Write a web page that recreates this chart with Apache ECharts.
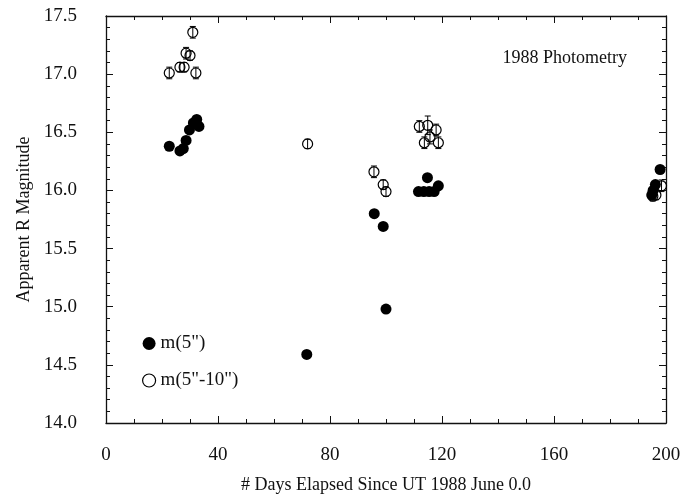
<!DOCTYPE html>
<html>
<head>
<meta charset="utf-8">
<script src="https://cdn.jsdelivr.net/npm/echarts@6/dist/echarts.min.js"></script>
<style>
  html, body { margin: 0; padding: 0; background: #fff; }
  #chart { width: 683px; height: 495px; }
</style>
</head>
<body>
<div id="chart"></div>
<script>
// m(5") -- filled circles
const daysInner = [22.6, 26.4, 27.6, 28.6, 29.8, 31.2, 32.4, 33.2, 71.7, 95.8, 99.0, 100.0,
    111.6, 113.5, 114.8, 115.4, 117.2, 118.7, 194.9, 195.4, 196.2, 197.9]
const magInner = [16.38, 16.34, 16.36, 16.43, 16.52, 16.58, 16.61, 16.55, 14.59, 15.80, 15.69, 14.98,
    15.99, 15.99, 16.11, 15.99, 15.99, 16.04, 15.96, 16.00, 16.05, 16.18]

// m(5"-10") -- open circles with error bars
const daysOuter = [22.6, 26.4, 27.9, 28.6, 30.0, 31.0, 32.1, 72.0, 95.7, 99.0, 100.0,
    111.9, 113.7, 114.9, 115.7, 117.9, 118.7, 195.3, 196.4, 198.4]
const magOuter = [17.01, 17.06, 17.06, 17.18, 17.16, 17.36, 17.01, 16.40, 16.16, 16.05, 15.99,
    16.55, 16.41, 16.56, 16.46, 16.52, 16.41, 15.95, 15.96, 16.04]
const errOuter = [0.05, 0.04, 0.04, 0.05, 0.04, 0.05, 0.05, 0.04, 0.05, 0.04, 0.04,
    0.05, 0.05, 0.08, 0.06, 0.05, 0.05, 0.04, 0.04, 0.05]

const xTicks = [0, 40, 80, 120, 160, 200]
const yTicks = ['14.0', '14.5', '15.0', '15.5', '16.0', '16.5', '17.0', '17.5']

const serif = '"Liberation Serif", "DejaVu Serif", serif'
const ink = '#111'

const chart = echarts.init(document.getElementById('chart'))

// ticks point into the plot on all four sides, like the original frame
const tickStyle = {
    axisLine: {show: true, onZero: false, lineStyle: {color: ink, width: 1.3}},
    axisTick: {show: true, inside: true, length: 7, lineStyle: {color: ink, width: 1}},
    minorTick: {show: true, splitNumber: 0, length: 4, lineStyle: {color: ink, width: 1}},
    splitLine: {show: false}
}

chart.setOption({
    backgroundColor: '#fff',
    animation: false,
    textStyle: {fontFamily: serif, color: ink},
    grid: {left: 106, right: 17, top: 16, bottom: 72, outerBoundsMode: 'none', containLabel: false},
    title: {
        text: '1988 Photometry',
        right: 51,
        top: 44,
        textStyle: {fontFamily: serif, fontSize: 18, fontWeight: 'normal', color: ink}
    },
    legend: {
        orient: 'vertical',
        left: 137,
        top: 329,
        itemWidth: 13,
        itemHeight: 13,
        itemGap: 18,
        textStyle: {fontFamily: serif, fontSize: 19, color: ink, padding: [0, 0, 0, 0]},
        data: [
            {name: 'm(5")', icon: 'circle', itemStyle: {color: '#000'}},
            {name: 'm(5"-10")', icon: 'circle',
                itemStyle: {color: '#fff', borderColor: '#000', borderWidth: 1.2}}
        ]
    },
    xAxis: [{
        type: 'value', min: 0, max: 200, interval: 40,
        name: '# Days Elapsed Since UT 1988 June 0.0',
        nameLocation: 'middle', nameGap: 53,
        nameTextStyle: {fontFamily: serif, fontSize: 18, color: ink},
        axisLabel: {
            fontFamily: serif, fontSize: 19, color: ink, margin: 23,
            formatter: v => xTicks.includes(v) ? String(v) : ''
        },
        ...tickStyle,
        minorTick: {...tickStyle.minorTick, splitNumber: 4}
    }, {
        type: 'value', min: 0, max: 200, interval: 40, position: 'top',
        axisLabel: {show: false},
        ...tickStyle,
        minorTick: {...tickStyle.minorTick, splitNumber: 4}
    }],
    yAxis: [{
        type: 'value', min: 14, max: 17.5, interval: 0.5,
        name: 'Apparent R Magnitude',
        nameLocation: 'middle', nameGap: 72,
        nameTextStyle: {fontFamily: serif, fontSize: 18, color: ink},
        axisLabel: {
            fontFamily: serif, fontSize: 19, color: ink, margin: 29,
            formatter: v => yTicks[Math.round((v - 14) / 0.5)]
        },
        ...tickStyle,
        minorTick: {...tickStyle.minorTick, splitNumber: 5}
    }, {
        type: 'value', min: 14, max: 17.5, interval: 0.5, position: 'right',
        axisLabel: {show: false},
        ...tickStyle,
        minorTick: {...tickStyle.minorTick, splitNumber: 5}
    }],
    series: [{
        name: 'm(5")',
        type: 'scatter',
        symbol: 'circle',
        symbolSize: 11,
        itemStyle: {color: '#000', opacity: 1},
        data: daysInner.map((d, i) => [d, magInner[i]]),
        z: 3
    }, {
        name: 'm(5"-10")',
        type: 'scatter',
        symbol: 'circle',
        symbolSize: 10,
        itemStyle: {color: 'rgba(255,255,255,0)', borderColor: '#000', borderWidth: 1.2, opacity: 1},
        data: daysOuter.map((d, i) => [d, magOuter[i]]),
        z: 4
    }, {
        name: 'errors',
        type: 'custom',
        data: daysOuter.map((d, i) => [d, magOuter[i] - errOuter[i], magOuter[i] + errOuter[i]]),
        renderItem: (params, api) => {
            const lo = api.coord([api.value(0), api.value(1)])
            const hi = api.coord([api.value(0), api.value(2)])
            const cap = 3
            const style = {stroke: '#000', lineWidth: 1}
            return {
                type: 'group',
                children: [
                    {type: 'line', shape: {x1: lo[0], y1: lo[1], x2: hi[0], y2: hi[1]}, style},
                    {type: 'line', shape: {x1: lo[0] - cap, y1: lo[1], x2: lo[0] + cap, y2: lo[1]}, style},
                    {type: 'line', shape: {x1: hi[0] - cap, y1: hi[1], x2: hi[0] + cap, y2: hi[1]}, style}
                ]
            }
        },
        z: 5
    }]
})
</script>
</body>
</html>
